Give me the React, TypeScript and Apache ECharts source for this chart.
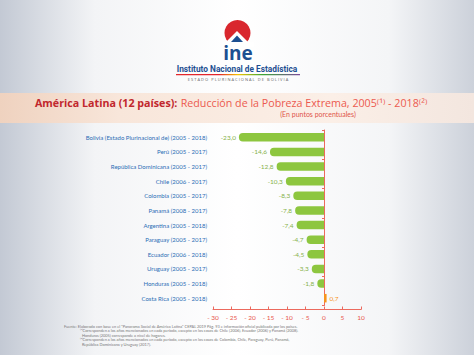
import React, { useEffect, useRef } from "react";
import * as echarts from "echarts";

const categories = [
  "Bolivia (Estado Plurinacional de) (2005 - 2018)",
  "Perú (2005 - 2017)",
  "República Dominicana (2005 - 2017)",
  "Chile (2006 - 2017)",
  "Colombia (2005 - 2017)",
  "Panamá (2008 - 2017)",
  "Argentina (2005 - 2018)",
  "Paraguay (2005 - 2017)",
  "Ecuador (2006 - 2018)",
  "Uruguay (2005 - 2017)",
  "Honduras (2005 - 2018)",
  "Costa Rica (2005 - 2018)",
];
const values = [-23.0, -14.6, -12.8, -10.3, -8.3, -7.8, -7.4, -4.7, -4.5, -3.3, -1.8, 0.7];
const xTicks = { min: -30, max: 10, interval: 5 };

const footnotes = [
  "Fuente: Elaborado con base en el \"Panorama Social de América Latina\" CEPAL 2019 Pág. 93 e información oficial publicada por los países.",
  "⁽¹⁾Corresponden a los años mencionados en cada período, excepto en los casos de Chile (2006), Ecuador (2006) y Panamá (2008).",
  "Honduras (2005) corresponde a nivel de hogares.",
  "⁽²⁾Corresponden a los años mencionados en cada período, excepto en los casos de Colombia, Chile, Paraguay, Perú, Panamá,",
  "República Dominicana y Uruguay (2017).",
];

const FONT = "Lato, 'Open Sans', sans-serif";
const GREEN = "#8dc63f";
const ORANGE = "#f7941d";
const AXIS_RED = "#ec6a5e";

export default function App() {
  const ref = useRef<HTMLDivElement>(null);
  useEffect(() => {
    const chart = echarts.init(ref.current!, null, { renderer: "svg" });
    const footX = [64, 80, 82, 80, 82];
    const footY = [326, 330.5, 335, 339.5, 344];
    const option: any = {
      animation: false,
      textStyle: { fontFamily: FONT },
      grid: { left: 213, right: 113, top: 130, bottom: 49.5, containLabel: false },
      xAxis: {
        type: "value",
        min: xTicks.min,
        max: xTicks.max,
        interval: xTicks.interval,
        offset: 4,
        axisLine: { show: true, lineStyle: { color: AXIS_RED, width: 1 } },
        axisTick: { show: true, inside: true, length: 3, lineStyle: { color: AXIS_RED } },
        splitLine: { show: false },
        axisLabel: {
          color: "#e8574c",
          fontSize: 6.5,
          margin: 4,
          fontFamily: FONT,
          formatter: (v: number) => (v < 0 ? "- " + -v : String(v)),
        },
      },
      yAxis: [
        {
          type: "category",
          data: categories,
          inverse: true,
          axisLine: { show: false },
          axisTick: { show: false },
          axisLabel: { color: "#2a6db5", fontSize: 6, margin: 6, fontFamily: FONT },
        },
        {
          type: "category",
          data: categories,
          inverse: true,
          position: "left",
          offset: -111,
          z: 1,
          axisLine: { show: true, lineStyle: { color: AXIS_RED, width: 1 } },
          axisTick: { show: true, length: 2, lineStyle: { color: AXIS_RED } },
          axisLabel: { show: false },
        },
      ],
      series: [
        {
          type: "bar",
          yAxisIndex: 0,
          barWidth: 8.5,
          z: 5,
          data: values.map((v) => ({
            value: v,
            itemStyle: {
              color: v < 0 ? GREEN : ORANGE,
              borderRadius: v < 0 ? [4, 0, 0, 4] : 0,
            },
            label: {
              show: true,
              position: v < 0 ? "left" : "right",
              color: v < 0 ? "#86b14a" : ORANGE,
              fontSize: 6.5,
              distance: 3,
              fontFamily: FONT,
              formatter: (p: any) => p.value.toFixed(1).replace(".", ","),
            },
          })),
        },
      ],
      graphic: [
        {
          type: "rect",
          z: -10,
          shape: { x: 0, y: 0, width: 474, height: 355 },
          style: {
            fill: new echarts.graphic.LinearGradient(0, 0, 1, 0, [
              { offset: 0, color: "#c3c9d4" },
              { offset: 0.2, color: "#f3f4f6" },
              { offset: 0.5, color: "#ffffff" },
              { offset: 0.82, color: "#f4f5f7" },
              { offset: 1, color: "#ccd1da" },
            ]),
          },
        },
        {
          type: "rect",
          z: -9,
          shape: { x: 0, y: 93, width: 474, height: 30 },
          style: {
            fill: new echarts.graphic.LinearGradient(0, 0, 1, 0, [
              { offset: 0, color: "#efd2bf" },
              { offset: 0.25, color: "#f8e6da" },
              { offset: 0.7, color: "#fbefe7" },
              { offset: 1, color: "#f3e6df" },
            ]),
          },
        },
        // logo
        { type: "circle", z: 1, shape: { cx: 237.5, cy: 33, r: 13 }, style: { fill: "#d9272e" } },
        { type: "rect", z: 2, shape: { x: 222, y: 42, width: 32, height: 5 }, style: { fill: "#ffffff" } },
        { type: "polygon", z: 3, shape: { points: [[237, 31], [226, 42], [248, 42]] }, style: { fill: "#ffffff" } },
        { type: "polygon", z: 4, shape: { points: [[237, 35.5], [231, 42], [243, 42]] }, style: { fill: "#1d4f91" } },
        {
          type: "text",
          z: 5,
          x: 238,
          y: 52.5,
          style: {
            text: "ine",
            fill: "#1d4f91",
            font: "bold 19px 'Open Sans', sans-serif",
            textAlign: "center",
            textVerticalAlign: "middle",
          },
        },
        {
          type: "text",
          z: 5,
          x: 237,
          y: 69,
          style: {
            text: "Instituto Nacional de Estadística",
            fill: "#1d4f91",
            font: "bold 8.3px Roboto, sans-serif",
            textAlign: "center",
            textVerticalAlign: "middle",
          },
        },
        {
          type: "rect",
          z: 5,
          shape: { x: 176, y: 74, width: 124, height: 1.2 },
          style: {
            fill: new echarts.graphic.LinearGradient(0, 0, 1, 0, [
              { offset: 0, color: "#e3262b" },
              { offset: 0.35, color: "#e3262b" },
              { offset: 0.5, color: "#f6c500" },
              { offset: 0.7, color: "#3aa535" },
              { offset: 1, color: "#7b4b9a" },
            ]),
          },
        },
        {
          type: "text",
          z: 5,
          x: 238,
          y: 79.5,
          style: {
            text: "E S T A D O   P L U R I N A C I O N A L   D E   B O L I V I A",
            fill: "#666666",
            font: "4px 'Open Sans', sans-serif",
            textAlign: "center",
            textVerticalAlign: "middle",
          },
        },
        // title
        {
          type: "text",
          z: 5,
          x: 35,
          y: 103,
          style: {
            text: "{a|América Latina (12 países):} {b|Reducción de la Pobreza Extrema, 2005⁽¹⁾ - 2018⁽²⁾}",
            textVerticalAlign: "middle",
            rich: {
              a: { fontFamily: "'Open Sans', sans-serif", fontWeight: "bold", fontSize: 10.7, fill: "#c1272d", color: "#c1272d" },
              b: { fontFamily: "'Open Sans', sans-serif", fontSize: 10.7, fill: "#ec5a4f", color: "#ec5a4f" },
            },
          },
        },
        {
          type: "text",
          z: 5,
          x: 318,
          y: 113.5,
          style: {
            text: "(En puntos porcentuales)",
            fill: "#e0544a",
            font: "7px " + FONT,
            textAlign: "center",
            textVerticalAlign: "middle",
          },
        },
        ...footnotes.map((t, i) => ({
          type: "text",
          z: 5,
          x: footX[i],
          y: footY[i],
          style: {
            text: t,
            fill: "#777777",
            font: "3.9px " + FONT,
            textVerticalAlign: "middle",
          },
        })),
      ],
    };
    chart.setOption(option);
    return () => chart.dispose();
  }, []);
  return (
    <div
      ref={ref}
      style={{ position: "absolute", left: 0, top: 0, width: 474, height: 355 }}
    />
  );
}
